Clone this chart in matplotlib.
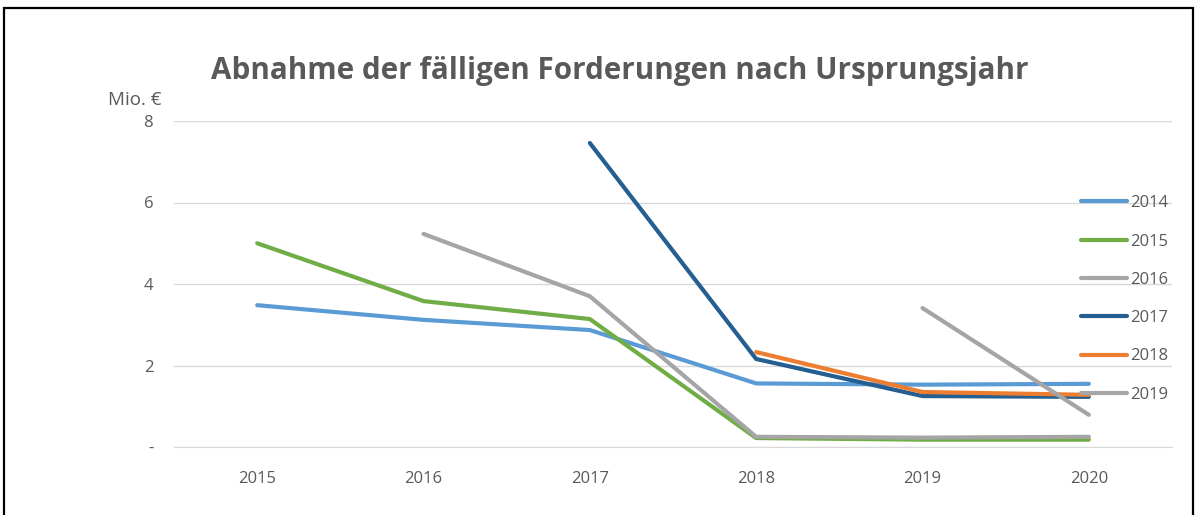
import numpy as np
import matplotlib
matplotlib.use("Agg")
import matplotlib.pyplot as plt
from matplotlib.patches import Rectangle

years = ["2015", "2016", "2017", "2018", "2019", "2020"]
nan = np.nan
s2014 = [3.48, 3.12, 2.87, 1.56, 1.53, 1.55]
s2015 = [5.00, 3.58, 3.14, 0.22, 0.18, 0.18]
s2016 = [nan, 5.23, 3.70, 0.25, 0.23, 0.25]
s2017 = [nan, nan, 7.46, 2.16, 1.25, 1.23]
s2018 = [nan, nan, nan, 2.33, 1.35, 1.28]
s2019 = [nan, nan, nan, nan, 3.41, 0.79]
series_names = ["2014", "2015", "2016", "2017", "2018", "2019"]
series_vals = [s2014, s2015, s2016, s2017, s2018, s2019]
colors = ["#5B9BD5", "#70AD47", "#A5A5A5", "#255E91", "#ED7D31", "#A5A5A5"]
yticks = [0, 2, 4, 6, 8]
yticklabels = ["-", "2", "4", "6", "8"]

W, H = 1199, 515
fig = plt.figure(figsize=(W / 100, H / 100), dpi=100)
fig.patch.set_facecolor("white")

# frame
fig.add_artist(Rectangle((4 / W, -0.05), (1193 - 4) / W, (H - 8) / H + 0.05,
                         transform=fig.transFigure, fill=False, edgecolor="black",
                         linewidth=1.6))

ax = fig.add_axes([174 / W, (H - 447) / H, (1172 - 174) / W, (447 - 121) / H])
x = np.arange(len(years))
for name, vals, c in zip(series_names, series_vals, colors):
    ax.plot(x, vals, color=c, linewidth=3.0, solid_capstyle="round", label=name)

ax.set_xlim(-0.5, len(years) - 0.5)
ax.set_ylim(0, 8)
ax.set_yticks(yticks)
ax.set_yticklabels(yticklabels)
ax.set_xticks(x)
ax.set_xticklabels(years)
ax.grid(axis="y", color="#D9D9D9", linewidth=1.0)
ax.set_axisbelow(True)
for sp in ["top", "right", "left"]:
    ax.spines[sp].set_visible(False)
ax.spines["bottom"].set_color("#D9D9D9")
ax.tick_params(axis="both", length=0, colors="#595959", labelsize=12)
ax.tick_params(axis="y", pad=15)
ax.tick_params(axis="x", pad=17)
for t in ax.get_xticklabels() + ax.get_yticklabels():
    t.set_fontfamily("Open Sans")

fig.text(161 / W, 1 - 100 / H, "Mio. €", ha="right", va="center", fontsize=13.5,
         color="#595959", family="Open Sans")
fig.text(620 / W, 1 - 71 / H, "Abnahme der fälligen Forderungen nach Ursprungsjahr",
         ha="center", va="center", fontsize=21.3, color="#595959",
         family="Open Sans", fontweight="bold")

leg = ax.legend(loc="upper left", bbox_to_anchor=(1074 / W, 1 - 188.5 / H),
                bbox_transform=fig.transFigure, frameon=False,
                fontsize=12, handlelength=2.8, handletextpad=0.18,
                labelspacing=1.34, borderaxespad=0)
for t in leg.get_texts():
    t.set_color("#595959")
    t.set_fontfamily("Open Sans")

fig.savefig("out.png", dpi=100, facecolor="white")
